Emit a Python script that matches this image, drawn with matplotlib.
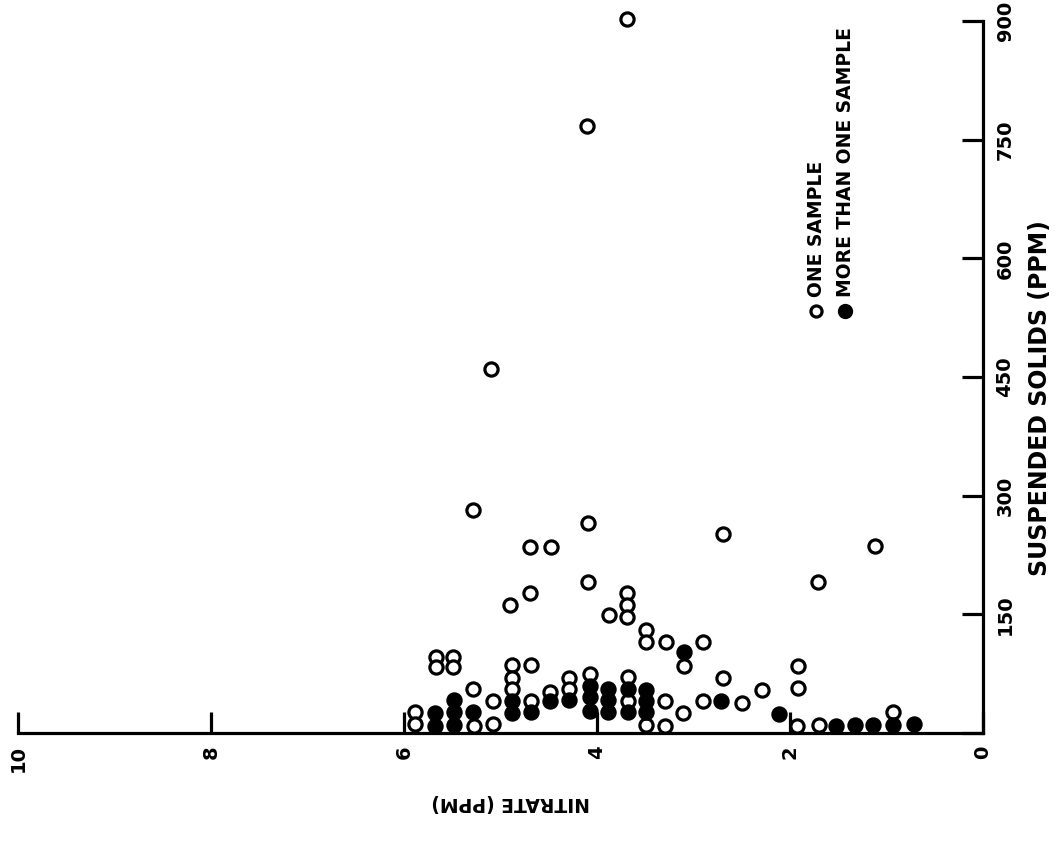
import matplotlib
matplotlib.use("Agg")
import matplotlib.pyplot as plt

# --- data (nitrate ppm, suspended solids ppm) ---
one_nitrate = [3.69, 4.10, 5.10, 5.28, 4.09, 4.69, 4.48, 2.69, 1.12, 4.09, 1.71,
               4.69, 4.90, 3.69, 3.69, 3.69, 3.88, 3.49, 3.49, 3.28, 2.90, 3.10,
               1.92, 1.92, 2.69, 2.90, 2.50, 2.29, 1.93, 1.70, 0.93,
               3.68, 3.68, 3.49, 3.30, 3.30, 3.11,
               5.89, 5.89, 5.67, 5.67, 5.49, 5.49, 5.28, 5.27, 5.08, 5.08,
               4.88, 4.88, 4.88, 4.68, 4.68, 4.49, 4.29, 4.29, 4.07]
one_solids = [903, 767, 460, 282, 266, 235, 235, 251, 236, 191, 191,
              177, 162, 177, 162, 147, 149, 130, 115, 115, 115, 85,
              85, 57, 69, 41, 38, 54, 9, 10, 26,
              71, 40, 10, 40, 9, 25,
              27, 12, 96, 84, 96, 84, 55, 9, 41, 11,
              86, 69, 55, 86, 40, 52, 69, 55, 74]

multi_nitrate = [3.10, 2.71, 2.11, 1.52, 1.33, 1.14, 0.93, 0.72,
                 3.89, 3.89, 3.89, 3.68, 3.68, 3.49, 3.49, 3.49,
                 5.68, 5.68, 5.48, 5.48, 5.48, 5.28, 4.88, 4.88, 4.68,
                 4.49, 4.29, 4.07, 4.07, 4.07]
multi_solids = [103, 40, 24, 9, 10, 10, 10, 11,
                56, 42, 27, 55, 27, 54, 40, 27,
                25, 9, 42, 27, 10, 27, 40, 25, 26,
                40, 42, 60, 45, 28]

nitrate_ticks = [10, 8, 6, 4, 2, 0]
solids_ticks = [0, 150, 300, 450, 600, 750, 900]

plt.rcParams["font.family"] = ["DejaVu Sans"]

fig = plt.figure(figsize=(10.58, 8.41), dpi=100)
ax = fig.add_axes([18 / 1058, 1 - 733 / 841, 965 / 1058, 712 / 841])

ax.plot(one_nitrate, one_solids, "o", ms=9.5, mfc="white", mec="black",
        mew=2.3, ls="none", zorder=3, clip_on=False)
ax.plot(multi_nitrate, multi_solids, "o", ms=9.5, mfc="black", mec="black",
        mew=2.3, ls="none", zorder=4, clip_on=False)

ax.set_xlim(10, 0)
ax.set_ylim(0, 900)

for s in ["top", "left"]:
    ax.spines[s].set_visible(False)
for s in ["bottom", "right"]:
    ax.spines[s].set_linewidth(2.3)

ax.yaxis.tick_right()
ax.set_xticks(nitrate_ticks)
ax.set_yticks(solids_ticks)
ax.set_yticklabels([str(v) if v else "" for v in solids_ticks])
ax.tick_params(axis="both", direction="in", length=15, width=2.3, pad=9,
               labelsize=14)
for lab in ax.get_xticklabels():
    lab.set_rotation(90)
    lab.set_fontweight("bold")
for lab in ax.get_yticklabels():
    lab.set_rotation(90)
    lab.set_va("center")
    lab.set_fontweight("bold")

ax.text(1.059, 0.47, "SUSPENDED SOLIDS (PPM)", transform=ax.transAxes,
        rotation=90, ha="center", va="center", fontsize=17, fontweight="bold")
ax.text(0.51, -0.098, "NITRATE (PPM)", transform=ax.transAxes,
        rotation=180, ha="center", va="center", fontsize=13.5, fontweight="bold")

# legend drawn by hand, rotated like the rest of the scan
ax.plot([0.827], [0.593], "o", ms=8, mfc="white", mec="black", mew=2.3,
        transform=ax.transAxes, clip_on=False)
ax.plot([0.857], [0.593], "o", ms=10, mfc="black", mec="black",
        transform=ax.transAxes, clip_on=False)
ax.text(0.827, 0.612, "ONE SAMPLE", transform=ax.transAxes, rotation=90,
        ha="center", va="bottom", fontsize=13.5, fontweight="bold")
ax.text(0.857, 0.612, "MORE THAN ONE SAMPLE", transform=ax.transAxes,
        rotation=90, ha="center", va="bottom", fontsize=13.5, fontweight="bold")

fig.savefig("out.png", dpi=100, facecolor="white")
